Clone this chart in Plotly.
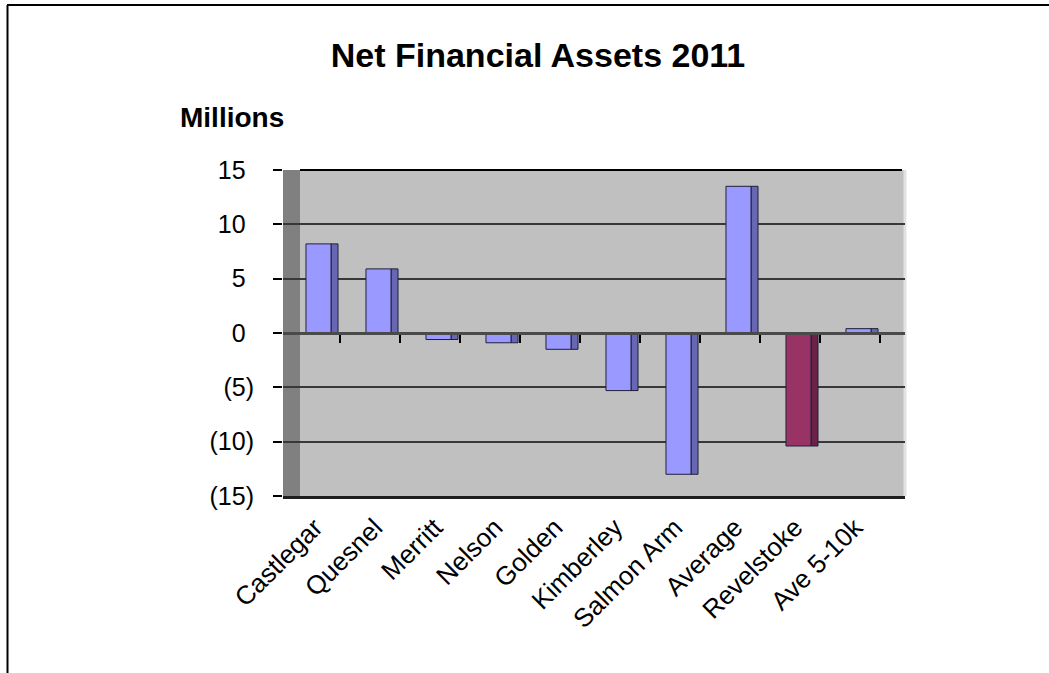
import plotly.graph_objects as go

# Net financial assets by community, 2011 (millions of dollars)
categories = ["Castlegar", "Quesnel", "Merritt", "Nelson", "Golden",
              "Kimberley", "Salmon Arm", "Average", "Revelstoke", "Ave 5-10k"]
values = [8.2, 5.9, -0.6, -0.9, -1.5, -5.3, -13.0, 13.5, -10.4, 0.4]
highlight = "Revelstoke"

y_tick_values = [15, 10, 5, 0, -5, -10, -15]

W, H = 1049, 673
M_L, M_R, M_T, M_B = 283, 144, 170, 177
plot_w = W - M_L - M_R
plot_h = H - M_T - M_B

FONT = "Liberation Sans, Arial, sans-serif"

FRONT = "#9999FF"
SIDE = "#6767B4"
FRONT_HI = "#993366"
SIDE_HI = "#6A2247"
OUTLINE = "#20203A"


def acct(v):
    # accounting style: negatives in brackets, positives padded by a hidden ")"
    if v < 0:
        return f"({abs(v)})"
    return f"{v}<span style='color:rgba(0,0,0,0)'>)</span>"


def px_x(p):
    return (p - M_L) / plot_w


def px_y(p):
    return (H - M_B - p) / plot_h


xs = list(range(len(categories)))
front_colors = [FRONT_HI if c == highlight else FRONT for c in categories]
side_colors = [SIDE_HI if c == highlight else SIDE for c in categories]

fig = go.Figure()

# darker side face of each column (pseudo 3-D depth)
fig.add_trace(go.Bar(
    x=xs, y=values, offset=0.35, width=0.117,
    marker=dict(color=side_colors, line=dict(color=OUTLINE, width=1)),
    hoverinfo="skip", showlegend=False,
))
# front face of each column
fig.add_trace(go.Bar(
    x=xs, y=values, offset=-0.067, width=0.417,
    marker=dict(color=front_colors, line=dict(color=OUTLINE, width=1)),
    customdata=categories,
    hovertemplate="%{customdata}: %{y}<extra></extra>",
    showlegend=False,
))
# invisible trace carrying the zero-line axis with category tick marks
fig.add_trace(go.Scatter(x=[xs[0]], y=[0], xaxis="x2", mode="markers",
                         marker=dict(opacity=0), hoverinfo="skip",
                         showlegend=False))

x_range = [-0.45, 9.9167]

fig.update_layout(
    width=W, height=H, autosize=False,
    margin=dict(l=M_L, r=M_R, t=M_T, b=M_B, pad=0),
    paper_bgcolor="white",
    plot_bgcolor="#C0C0C0",
    barmode="overlay",
    font=dict(family=FONT, color="black", size=25),
    title=dict(text="<b>Net Financial Assets 2011</b>",
               x=538 / W, xref="container", xanchor="center",
               y=1 - 55 / H, yref="container", yanchor="middle",
               font=dict(family=FONT, size=34, color="black")),
    xaxis=dict(range=x_range, showgrid=False, zeroline=False,
               tickmode="array", tickvals=xs, ticktext=categories,
               tickangle=-45, ticks="", ticklabelstandoff=3,
               ticklabelshift=5,
               tickfont=dict(family=FONT, size=26, color="black"),
               showline=True, linecolor="#1E1E1E", linewidth=3),
    xaxis2=dict(range=x_range, overlaying="x", anchor="free", position=0.5,
                showgrid=False, zeroline=False, showticklabels=False,
                tickmode="array", tickvals=[x + 0.5 for x in xs],
                ticks="outside", ticklen=8, tickwidth=2, tickcolor="black",
                showline=True, linecolor="#4A4A4A", linewidth=3),
    yaxis=dict(range=[-15, 15], tickmode="array", tickvals=y_tick_values,
               ticktext=[acct(v) for v in y_tick_values],
               ticks="outside", ticklen=9, tickwidth=2, tickcolor="black",
               ticklabelstandoff=14,
               tickfont=dict(family=FONT, size=25, color="black"),
               showgrid=True, gridcolor="#383838", gridwidth=1.5,
               zeroline=False, showline=False),
)

wall_edge = px_x(300)
fig.add_shape(type="rect", xref="paper", yref="paper",
              x0=0, x1=wall_edge, y0=0, y1=1,
              fillcolor="#808080", line=dict(width=0), layer="below")
fig.add_shape(type="line", xref="paper", yref="paper",
              x0=1, x1=1, y0=0, y1=1,
              line=dict(color="#E2E2E2", width=3), layer="below")
fig.add_shape(type="line", xref="paper", yref="paper",
              x0=wall_edge, x1=px_x(902), y0=1, y1=1,
              line=dict(color="black", width=2))

# outer chart frame (top and left edges)
fig.add_shape(type="line", xref="paper", yref="paper",
              x0=px_x(7), x1=px_x(W), y0=px_y(5), y1=px_y(5),
              line=dict(color="black", width=2))
fig.add_shape(type="line", xref="paper", yref="paper",
              x0=px_x(7.5), x1=px_x(7.5), y0=px_y(5), y1=px_y(H),
              line=dict(color="black", width=2))

fig.add_annotation(text="<b>Millions</b>", xref="paper", yref="paper",
                   x=px_x(178), y=px_y(117), xanchor="left", yanchor="middle",
                   showarrow=False,
                   font=dict(family=FONT, size=28, color="black"))

fig.write_html("out.html")
